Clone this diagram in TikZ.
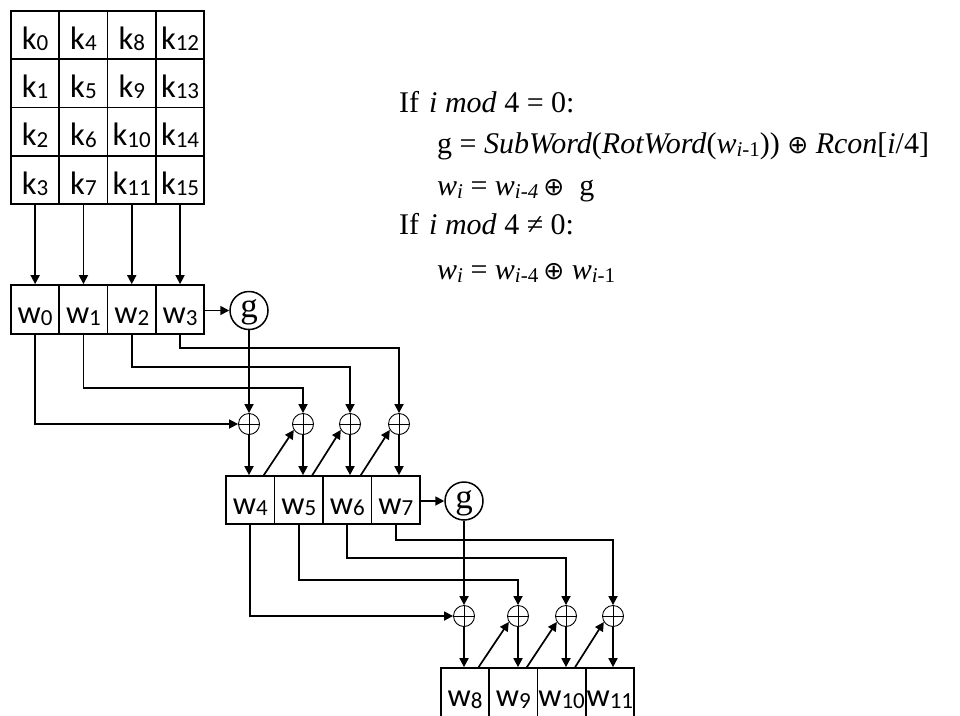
\documentclass[tikz,border=0pt]{standalone}
\usepackage{fontspec}
\setmainfont{Liberation Serif}
\newfontfamily\lblfont{Carlito}
\newfontfamily\symfont{DejaVu Sans}
\usetikzlibrary{arrows.meta,calc}
\newcommand\kw[2]{#1\raisebox{-1.5pt}{\fontsize{23}{23}\selectfont #2}}
\newcommand\fsub[1]{\raisebox{-3pt}{\fontsize{21}{21}\selectfont #1}}
\newcommand\xo{{\symfont\fontsize{25}{25}\selectfont ⊕}}
\tikzset{
  cellbox/.style={draw, line width=1.7pt, minimum width=48.3pt, minimum height=48.3pt,
    inner sep=0pt, text height=28pt, text depth=0pt,
    font=\lblfont\fontsize{32.5}{32.5}\selectfont},
  gbox/.style={draw, circle, line width=1.5pt, minimum size=38pt, inner sep=0pt,
    text height=20pt, text depth=6pt, font=\fontsize{35}{35}\selectfont},
  xorbox/.style={draw, circle, line width=0.9pt, minimum size=21pt, inner sep=0pt,
    path picture={\draw[line width=0.9pt] (path picture bounding box.north) -- (path picture bounding box.south)
      (path picture bounding box.west) -- (path picture bounding box.east);}},
  arr/.style={line width=1.7pt, -{Triangle[length=9pt,width=9pt]}},
  formula/.style={anchor=base west, inner sep=0pt, font=\fontsize{30}{30}\selectfont}
}
\begin{document}
\begin{tikzpicture}[x=1pt,y=-1pt]
\useasboundingbox (0,0) rectangle (960,715);
\fill[white] (0,0) rectangle (960,715);
\clip (0,0) rectangle (960,715);

% key grid
\foreach \c in {0,...,3} {
  \foreach \r in {0,...,3} {
    \pgfmathtruncatemacro\n{4*\c+\r}
    \node[cellbox] (k\n) at (35.15+48.3*\c, 35.15+48.3*\r) {\kw{k}{\n}};
  }
}

% word rows
\foreach \i in {0,...,3} {
  \node[cellbox, minimum height=49pt] (w\i) at (35.15+48.3*\i, 309.5) {\kw{w}{\i}};
}
\foreach \i/\j in {4/0,5/1,6/2,7/3} {
  \node[cellbox, minimum width=48.5pt, minimum height=48pt] (w\i) at (250.25+48.5*\j, 500) {\kw{w}{\i}};
}
\foreach \i/\j in {8/0,9/1,10/2,11/3} {
  \node[cellbox, minimum width=48.25pt, minimum height=49pt] (w\i) at (465.1+48.25*\j, 692.5) {\kw{w}{\i}};
}

% g functions
\node[gbox] (g0) at (249, 310.5) {g};
\node[gbox] (g1) at (464, 501) {g};

% xor nodes
\node[xorbox] (x1) at (249, 424) {};
\node[xorbox] (x2) at (303, 424) {};
\node[xorbox] (x3) at (350, 424) {};
\node[xorbox] (x4) at (399, 424) {};
\node[xorbox] (x5) at (464, 616) {};
\node[xorbox] (x6) at (518, 616) {};
\node[xorbox] (x7) at (566, 616) {};
\node[xorbox] (x8) at (613, 616) {};

% key -> words
\draw[arr] (k3.south) -- (w0.north);
\draw[arr] (k7.south) -- (w1.north);
\draw[arr] (k11.south) -- (w2.north);
\draw[arr] (k15.south) -- (w3.north);

% first round
\draw[arr] (w3.east |- g0.west) -- (g0.west);
\draw[arr] (g0.south) -- (x1.north);
\draw[arr] (w0.south) |- (x1.west);
\draw[arr] (w1.south) -- (w1.south |- 0,388) -| (x2.north);
\draw[arr] (w2.south) -- (w2.south |- 0,367) -| (x3.north);
\draw[arr] (w3.south) -- (w3.south |- 0,348) -| (x4.north);
\draw[arr] (x1.south) -- (x1.south |- w4.north);
\draw[arr] (x2.south) -- (x2.south |- w5.north);
\draw[arr] (x3.south) -- (x3.south |- w6.north);
\draw[arr] (x4.south) -- (x4.south |- w7.north);
\draw[arr] ($(w4.north west)!0.77!(w4.north east)$) -- (x2.213);
\draw[arr] ($(w5.north west)!0.77!(w5.north east)$) -- (x3.213);
\draw[arr] ($(w6.north west)!0.77!(w6.north east)$) -- (x4.213);

% second round
\draw[arr] (w7.east |- g1.west) -- (g1.west);
\draw[arr] (g1.south) -- (x5.north);
\draw[arr] (w4.south) |- (x5.west);
\draw[arr] (w5.south) -- (w5.south |- 0,580) -| (x6.north);
\draw[arr] (w6.south) -- (w6.south |- 0,558) -| (x7.north);
\draw[arr] (w7.south) -- (w7.south |- 0,540) -| (x8.north);
\draw[arr] (x5.south) -- (x5.south |- w8.north);
\draw[arr] (x6.south) -- (x6.south |- w9.north);
\draw[arr] (x7.south) -- (x7.south |- w10.north);
\draw[arr] (x8.south) -- (x8.south |- w11.north);
\draw[arr] ($(w8.north west)!0.77!(w8.north east)$) -- (x6.213);
\draw[arr] ($(w9.north west)!0.77!(w9.north east)$) -- (x7.213);
\draw[arr] ($(w10.north west)!0.77!(w10.north east)$) -- (x8.213);

% formulas
\node[formula] (t1) at (399,112) {If\hspace{10pt}\textit{i mod} 4 = 0:};
\node[formula] (t2) at (437,153) {g = \textit{SubWord}(\textit{RotWord}(\textit{w}\fsub{\textit{i}-1})) \xo{} \textit{Rcon}[\textit{i}/4]};
\node[formula] (t3) at (437,195) {\textit{w}\fsub{\textit{i}} = \textit{w}\fsub{\textit{i-4}}\,\xo\ \ g};
\node[formula] (t4) at (399,234) {If\hspace{10pt}\textit{i mod} 4 ≠ 0:};
\node[formula] (t5) at (437,279) {\textit{w}\fsub{\textit{i}} = \textit{w}\fsub{\textit{i}-4}\,\xo{} \textit{w}\fsub{\textit{i}-1}};
\end{tikzpicture}
\end{document}
